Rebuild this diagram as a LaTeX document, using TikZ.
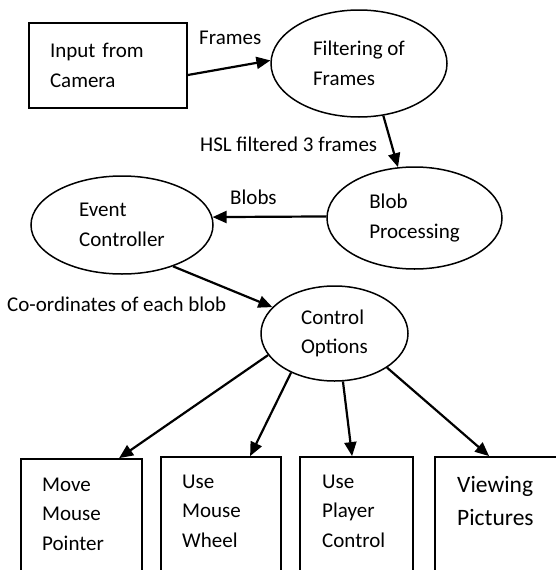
\documentclass[tikz,border=0pt]{standalone}
\usepackage{fontspec}
\setmainfont{Carlito}
\usetikzlibrary{shapes.geometric,arrows.meta,calc}
\begin{document}
\begin{tikzpicture}[x=1pt,y=-1pt,
  txt/.style={font=\fontsize{21}{29.5}\selectfont, inner sep=0pt},
  bigtxt/.style={font=\fontsize{23.5}{33}\selectfont, inner sep=0pt},
  procbox/.style={draw, line width=1.8pt, rectangle, inner sep=0pt},
  proc/.style={draw, line width=1.5pt, ellipse, inner sep=0pt, align=left, font=\fontsize{21}{29.5}\selectfont},
  conn/.style={line width=2.2pt, -{Triangle[length=14pt,width=12pt]}}]
\useasboundingbox (0,0) rectangle (555,570);

% top input box
\node[procbox, minimum width=158pt, minimum height=85pt, text width=116pt, inner xsep=21pt, align=left, font=\fontsize{21}{29.5}\selectfont] (inp) at (108,65.5) {Input from\\Camera};

% ellipses
\node[proc, minimum width=176pt, minimum height=107pt] (filt) at (359,63.5) {Filtering of\\Frames};
\node[proc, minimum width=175pt, minimum height=102pt] (blob) at (414.5,218) {Blob\\Processing};
\node[proc, minimum width=182pt, minimum height=98pt] (event) at (122,225) {Event\\Controller};
\node[proc, minimum width=147pt, minimum height=95pt] (ctrl) at (334.5,333.5) {Control\\Options};

% bottom boxes (extend below the page)
\node[procbox, minimum width=121pt, minimum height=181pt] (b1) at (81.5,549.5) {};
\node[procbox, minimum width=120pt, minimum height=183pt] (b2) at (221,548.5) {};
\node[procbox, minimum width=113pt, minimum height=183pt] (b3) at (356.5,548.5) {};
\node[procbox, minimum width=140pt, minimum height=183pt] (b4) at (505,548.5) {};

\node[txt, align=left, anchor=north west] (t1) at (42,470.35) {\strut Move\\Mouse\\Pointer};
\node[txt, align=left, anchor=north west] (t2) at (182,467.35) {\strut Use\\Mouse\\Wheel};
\node[txt, align=left, anchor=north west] (t3) at (322,467.35) {\strut Use\\Player\\Control};
\node[bigtxt, align=left, anchor=north west] (t4) at (457,468.9) {\strut Viewing\\Pictures};

% connector labels
\node[txt, anchor=base west] (lframes) at (199,44) {Frames};
\node[txt, anchor=base west] (lhsl) at (200,151) {HSL filtered 3 frames};
\node[txt, anchor=base west] (lblobs) at (230,204) {Blobs};
\node[txt, anchor=base west] (lcoord) at (7,311) {Co-ordinates of each blob};

% connectors
\draw[conn] ($(inp.east)+(0,9.5)$) -- (filt.178);
\draw[conn] (filt.295) -- (blob.108);
\draw[conn] (blob.179) -- (event.5);
\draw[conn] (event.321) -- (ctrl.157);
\draw[conn] (ctrl.198) -- ($(b1.north west)+(99,0)$);
\draw[conn] (ctrl.222) -- ($(b2.north west)+(90,0)$);
\draw[conn] (ctrl.280) -- ($(b3.north west)+(53,0)$);
\draw[conn] (ctrl.327) -- ($(b4.north west)+(55,0)$);
\end{tikzpicture}
\end{document}
